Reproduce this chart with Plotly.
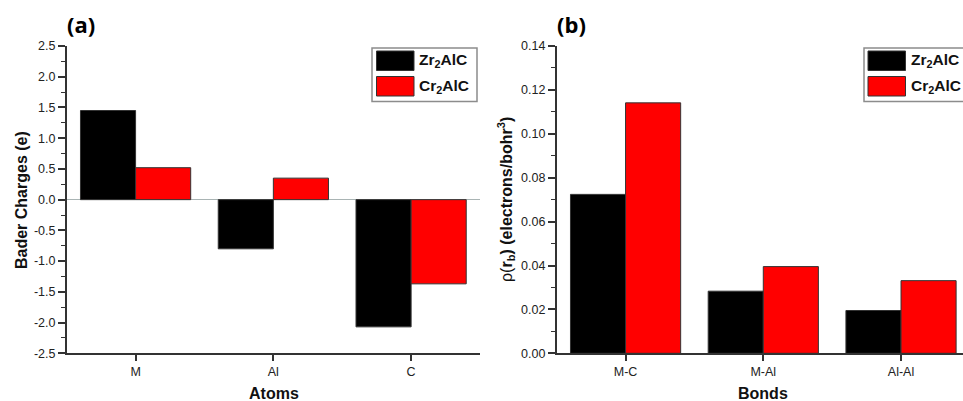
import plotly.graph_objects as go

# ---- data ----
atoms = ["M", "Al", "C"]
zr_charge = [1.45, -0.80, -2.07]
cr_charge = [0.52, 0.35, -1.37]

bonds = ["M-C", "M-Al", "Al-Al"]
zr_rho = [0.0724, 0.0283, 0.0195]
cr_rho = [0.1141, 0.0395, 0.0331]

a_tickvals = [2.5, 2.0, 1.5, 1.0, 0.5, 0.0, -0.5, -1.0, -1.5, -2.0, -2.5]
a_ticktext = ["2.5", "2.0", "1.5", "1.0", "0.5", "0.0", "-0.5", "-1.0", "-1.5", "-2.0", "-2.5"]
b_tickvals = [0.0, 0.02, 0.04, 0.06, 0.08, 0.10, 0.12, 0.14]
b_ticktext = ["0.00", "0.02", "0.04", "0.06", "0.08", "0.10", "0.12", "0.14"]

series_names = ["Zr<sub>2</sub>AlC", "Cr<sub>2</sub>AlC"]
series_colors = ["#000000", "#ff0000"]

W, H = 963, 401
def px(x):
    return x / W
def py(y):
    return 1 - y / H

fig = go.Figure()
outline = dict(color="#333333", width=1)
fig.add_trace(go.Bar(x=atoms, y=zr_charge, marker=dict(color=series_colors[0], line=outline),
                     xaxis="x", yaxis="y", showlegend=False))
fig.add_trace(go.Bar(x=atoms, y=cr_charge, marker=dict(color=series_colors[1], line=outline),
                     xaxis="x", yaxis="y", showlegend=False))
fig.add_trace(go.Bar(x=bonds, y=zr_rho, marker=dict(color=series_colors[0], line=outline),
                     xaxis="x2", yaxis="y2", showlegend=False))
fig.add_trace(go.Bar(x=bonds, y=cr_rho, marker=dict(color=series_colors[1], line=outline),
                     xaxis="x2", yaxis="y2", showlegend=False))

tickfont = dict(family="Liberation Sans, Arial, sans-serif", size=12.5, color="#222222")
axcol = "#333333"
ydom = [py(353.3), py(46)]

xcommon = dict(type="category", showline=True, linecolor=axcol, linewidth=1.5,
               ticks="outside", ticklen=6, tickcolor=axcol, tickwidth=1.5,
               tickfont=tickfont, showgrid=False, zeroline=False, automargin=False)
ycommon = dict(showline=True, linecolor=axcol, linewidth=1.5,
               ticks="outside", ticklen=7, tickcolor=axcol, tickwidth=1.5,
               tickfont=tickfont, showgrid=False, automargin=False)

fig.update_layout(
    width=W, height=H,
    margin=dict(l=0, r=0, t=0, b=0, autoexpand=False),
    paper_bgcolor="white", plot_bgcolor="white",
    barmode="group", bargap=0.2, bargroupgap=0,
    showlegend=False,
    xaxis=dict(domain=[px(66.7), px(480)], range=[-0.5, 2.5], anchor="y", **xcommon),
    yaxis=dict(domain=ydom, range=[-2.5, 2.5], anchor="x",
               tickvals=a_tickvals, ticktext=a_ticktext,
               minor=dict(ticks="outside", ticklen=4, dtick=0.25, tick0=0, tickcolor=axcol, tickwidth=1),
               zeroline=True, zerolinecolor="#a9b4b4", zerolinewidth=1, **ycommon),
    xaxis2=dict(domain=[px(556.7), 1.0], range=[-0.5, 2.45], anchor="y2", **xcommon),
    yaxis2=dict(domain=ydom, range=[0, 0.14], anchor="x2",
                tickvals=b_tickvals, ticktext=b_ticktext,
                minor=dict(ticks="outside", ticklen=4, dtick=0.01, tick0=0, tickcolor=axcol, tickwidth=1),
                zeroline=False, **ycommon),
)

title_font = dict(family="Liberation Sans, Arial, sans-serif", size=16, color="#111111")
panel_font = dict(family="Open Sans, Liberation Sans, sans-serif", size=22, color="#000000")
annots = [
    dict(text="<b>(a)</b>", x=px(65), y=py(24), xanchor="left", yanchor="middle", font=panel_font),
    dict(text="<b>(b)</b>", x=px(555), y=py(24), xanchor="left", yanchor="middle", font=panel_font),
    dict(text="<b>Atoms</b>", x=px(273.5), y=py(393), xanchor="center", yanchor="middle", font=title_font),
    dict(text="<b>Bonds</b>", x=px(763), y=py(393), xanchor="center", yanchor="middle", font=title_font),
    dict(text="<b>Bader Charges (e)</b>", x=px(21), y=py(200), xanchor="center", yanchor="middle",
         textangle=-90, font=title_font),
    dict(text="ρ(<b>r</b><sub><b>b</b></sub><b>) (electrons/bohr</b><sup><b>3</b></sup><b>)</b>",
         x=px(506), y=py(200), xanchor="center", yanchor="middle", textangle=-90, font=title_font),
]

shapes = []
leg_font = dict(family="Liberation Sans, Arial, sans-serif", size=15.5, color="#111111")
for (bx0, bx1, sx0) in [(372, 477, 376.5), (864, 990, 868)]:
    shapes.append(dict(type="rect", xref="paper", yref="paper",
                       x0=px(bx0), x1=px(bx1), y0=py(101.5), y1=py(48),
                       line=dict(color="#8c8c8c", width=1.5), fillcolor="white", layer="above"))
    for i, (name, col) in enumerate(zip(series_names, series_colors)):
        yt = 51 + i * 25.5
        shapes.append(dict(type="rect", xref="paper", yref="paper",
                           x0=px(sx0), x1=px(sx0 + 37.5), y0=py(yt + 19.5), y1=py(yt),
                           line=dict(color="#333333", width=1), fillcolor=col, layer="above"))
        annots.append(dict(text="<b>" + name + "</b>", x=px(sx0 + 40.5), y=py(yt + 10),
                           xanchor="left", yanchor="middle", font=leg_font))

for a in annots:
    a.update(xref="paper", yref="paper", showarrow=False)
fig.update_layout(annotations=annots, shapes=shapes)

fig.write_html("out.html", config={"displayModeBar": False},
               post_script="document.body.style.margin='0';document.body.style.padding='0';"
                           "document.body.style.overflow='hidden';")
